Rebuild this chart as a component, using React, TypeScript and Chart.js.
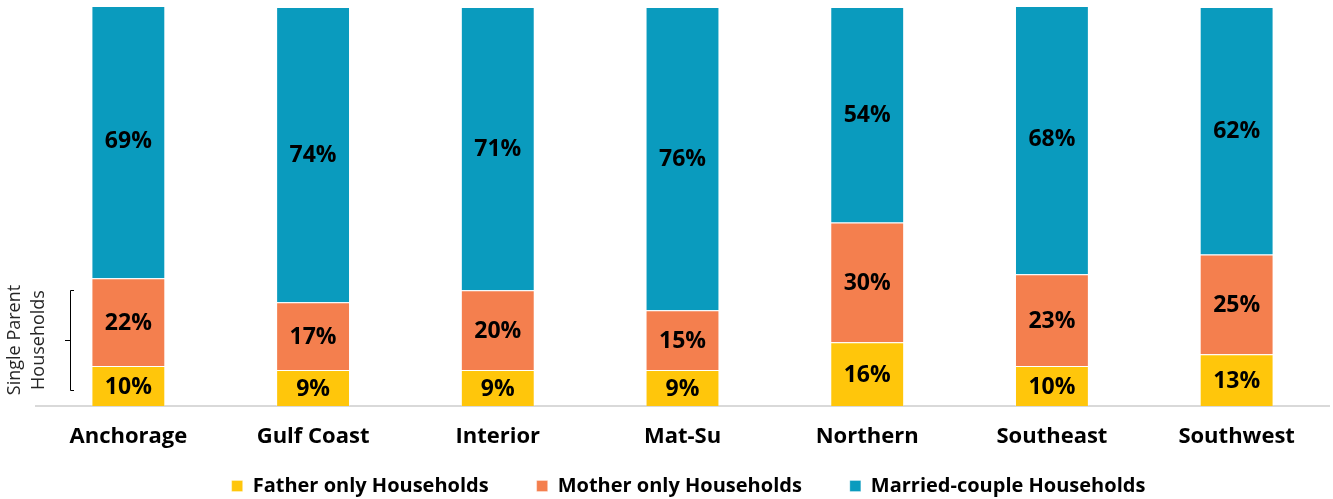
import React, { useEffect, useRef } from "react";
import { Chart, registerables } from "chart.js";

Chart.register(...registerables);

const categories = ["Anchorage", "Gulf Coast", "Interior", "Mat-Su", "Northern", "Southeast", "Southwest"];
const fatherOnly = [10, 9, 9, 9, 16, 10, 13];
const motherOnly = [22, 17, 20, 15, 30, 23, 25];
const marriedCouple = [69, 74, 71, 76, 54, 68, 62];
const seriesNames = ["Father only Households", "Mother only Households", "Married-couple Households"];
const seriesColors = ["#FFC60B", "#F47F4E", "#0A9BBE"];
const sideNote = ["Single Parent", "Households"];

const FONT = "'Open Sans', 'Noto Sans', sans-serif";

const labelPlugin = {
  id: "segLabels",
  afterDatasetsDraw(chart: any) {
    const ctx = chart.ctx;
    ctx.save();
    ctx.font = `bold 23px ${FONT}`;
    ctx.fillStyle = "#000";
    ctx.textAlign = "center";
    ctx.textBaseline = "middle";
    chart.data.datasets.forEach((ds: any, i: number) => {
      const meta = chart.getDatasetMeta(i);
      meta.data.forEach((el: any, j: number) => {
        const v = ds.data[j];
        ctx.fillText(`${v}%`, el.x, (el.y + el.base) / 2 + 1);
      });
    });
    ctx.restore();
  },
};

const legendShift = {
  id: "legendShift",
  afterLayout(chart: any) {
    const lg = chart.legend;
    if (lg) {
      lg.top -= 24;
      lg.bottom -= 24;
      lg.left += 6;
      lg.right += 6;
    }
  },
};

const sidePlugin = {
  id: "sideNote",
  afterDraw(chart: any) {
    const ctx = chart.ctx;
    const y = chart.scales.y;
    const top = Math.round(y.getPixelForValue(29));
    const bottom = Math.round(y.getPixelForValue(4));
    const mid = Math.round((top + bottom) / 2);
    ctx.save();
    ctx.strokeStyle = "#000";
    ctx.lineWidth = 1;
    ctx.beginPath();
    ctx.moveTo(74, top + 0.5);
    ctx.lineTo(70.5, top + 0.5);
    ctx.lineTo(70.5, bottom + 0.5);
    ctx.lineTo(74, bottom + 0.5);
    ctx.moveTo(70.5, mid + 0.5);
    ctx.lineTo(65, mid + 0.5);
    ctx.stroke();
    ctx.translate(0, mid);
    ctx.rotate(-Math.PI / 2);
    ctx.font = `18px ${FONT}`;
    ctx.fillStyle = "#262626";
    ctx.textAlign = "center";
    ctx.textBaseline = "alphabetic";
    ctx.fillText(sideNote[0], 0, 20);
    ctx.fillText(sideNote[1], 0, 44);
    ctx.restore();
  },
};

export default function App() {
  const ref = useRef<HTMLCanvasElement>(null);
  useEffect(() => {
    if (!ref.current) return;
    const data = [fatherOnly, motherOnly, marriedCouple];
    const chart = new Chart(ref.current, {
      type: "bar",
      data: {
        labels: categories,
        datasets: data.map((d, i) => ({
          label: seriesNames[i],
          data: d,
          backgroundColor: seriesColors[i],
          borderColor: "rgba(255,255,255,0.3)",
          borderWidth: 1,
          categoryPercentage: 1,
          barPercentage: 0.4,
        })),
      },
      options: {
        animation: false,
        responsive: false,
        maintainAspectRatio: false,
        layout: { padding: { left: 36, right: 4, top: 7, bottom: -31 } },
        scales: {
          x: {
            stacked: true,
            grid: { display: false, drawTicks: false },
            border: { display: true, color: "#D9D9D9", width: 2 },
            ticks: { color: "#000", font: { family: FONT, size: 22, weight: "bold" }, padding: 18 },
            afterFit: (scale: any) => {
              scale.height = 46;
            },
          },
          y: { stacked: true, display: false, min: 0, max: 100 },
        },
        plugins: {
          legend: {
            position: "bottom",
            labels: {
              color: "#000",
              font: { family: FONT, size: 20, weight: "bold" },
              boxWidth: 11,
              boxHeight: 11,
              padding: 48,
            },
          },
          tooltip: { enabled: false },
        },
      },
      plugins: [labelPlugin, sidePlugin, legendShift],
    });
    return () => chart.destroy();
  }, []);
  return (
    <div style={{ position: "fixed", left: 0, top: 0, width: 1333, height: 499, background: "#fff" }}>
      <canvas ref={ref} width={1333} height={499} style={{ width: 1333, height: 499 }} />
    </div>
  );
}
